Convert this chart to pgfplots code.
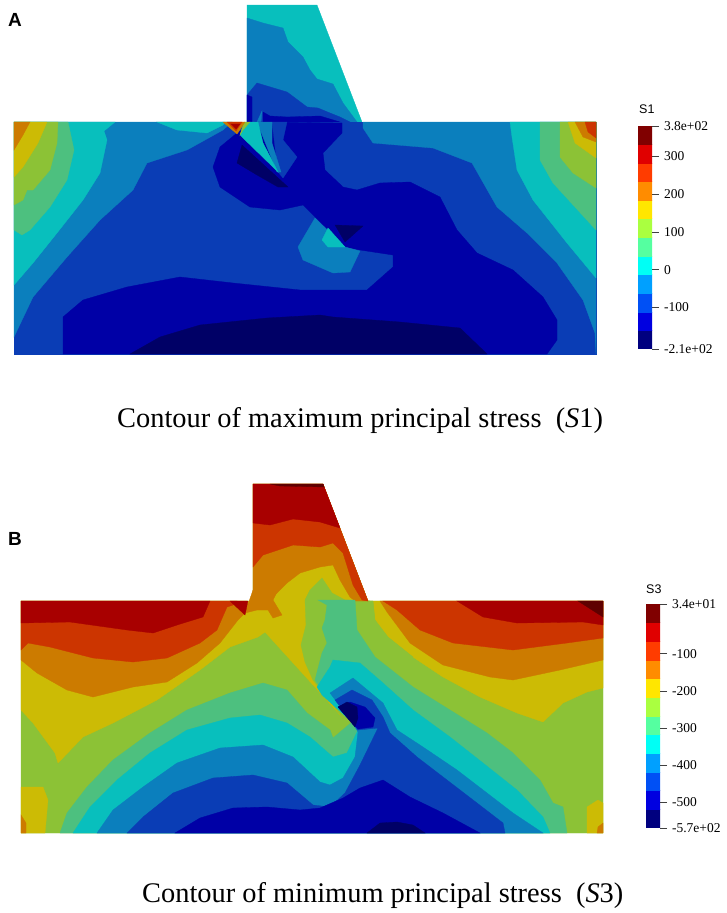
\documentclass[border=0pt]{standalone}
\usepackage{fontspec}
\setmainfont{Liberation Serif}
\newfontfamily\arialfont{Liberation Sans}
\usepackage{pgfplots}
\pgfplotsset{compat=1.18}

% contour colours, low to high
\definecolor{c1}{HTML}{000066}
\definecolor{c2}{HTML}{0000A6}
\definecolor{c3}{HTML}{0A3DB5}
\definecolor{c4}{HTML}{0B7FBD}
\definecolor{c5}{HTML}{08BFBD}
\definecolor{c6}{HTML}{4DC07F}
\definecolor{c7}{HTML}{8CC236}
\definecolor{c8}{HTML}{CCBB05}
\definecolor{c9}{HTML}{CC7B00}
\definecolor{c10}{HTML}{CC3500}
\definecolor{c11}{HTML}{A80000}
\definecolor{c12}{HTML}{5F0000}
% colour bar is brighter than the shaded model
\definecolor{b1}{HTML}{00007F}
\definecolor{b2}{HTML}{0000E0}
\definecolor{b3}{HTML}{0050F5}
\definecolor{b4}{HTML}{00A0FF}
\definecolor{b5}{HTML}{00FFF5}
\definecolor{b6}{HTML}{55FFA0}
\definecolor{b7}{HTML}{AAFF40}
\definecolor{b8}{HTML}{FFE600}
\definecolor{b9}{HTML}{FF8C00}
\definecolor{b10}{HTML}{FF3C00}
\definecolor{b11}{HTML}{E00000}
\definecolor{b12}{HTML}{800000}

\newcommand{\reg}[2]{\addplot[fill=#1,draw=#1,line width=0.3pt,forget plot] coordinates {#2} -- cycle;}

\pgfplotsset{
  cbar/.style={
    scale only axis, width=14pt,
    xmin=0, xmax=1,
    hide x axis,
    ytick pos=right,
    y axis line style={draw=none},
    tick align=outside, major tick length=7pt,
    tick style={darkgray,line width=0.5pt},
    yticklabel style={font=\fontsize{13.5}{14}\selectfont,anchor=west,xshift=1.5pt},
    axis on top,
  },
}

\begin{document}
\begin{tikzpicture}
\begin{axis}[
  at={(0,0)}, anchor=south west,
  scale only axis, width=726pt, height=913pt,
  xmin=0, xmax=726, ymin=0, ymax=913, y dir=reverse,
  hide axis, clip=false,
]
% ---- panel A, S1: stem
\reg{c5}{(247,5)(317,5)(362,122)(247,122)}
\reg{c4}{(247,18)(263,23)(283,28)(288,42)(303,57)(310,70)(317,79)(333,84)(343,103)(357,122)(247,122)}
\reg{c3}{(247,95)(257,83)(287,92)(307,107)(318,108)(330,113)(340,117)(350,122)(247,122)}
\reg{c2}{(263,122)(263,112)(270,116)(287,117)(320,116)(340,122)}
\reg{c2}{(247,122)(247,95)(252,97)(252,122)}
\reg{c4}{(257,122)(262,111)(261,122)}
% ---- panel A: block
\reg{c3}{(14,122)(596,122)(596,354)(14,354)}
\reg{c4}{(14,122)(232,122)(223,130)(187,150)(147,163)(133,190)(100,220)(67,257)(33,297)(14,337)}
\reg{c5}{(14,122)(115,122)(104,131)(107,140)(100,173)(83,200)(57,233)(33,263)(14,285)}
\reg{c6}{(14,122)(68,122)(74,150)(67,180)(50,207)(30,230)(22,235)(14,230)}
\reg{c7}{(14,122)(58,122)(57,143)(50,170)(33,190)(27,190)(23,200)(14,205)}
\reg{c8}{(14,122)(47,122)(38,143)(23,167)(14,177)}
\reg{c9}{(14,122)(30,122)(23,135)(14,150)}
\reg{c5}{(157,122)(225,122)(223,125)(207,133)(177,130)}
\reg{c4}{(363,122)(363,128)(373,143)(433,148)(472,163)(497,207)(527,233)(557,263)(583,300)(595,333)(596,354)(596,122)}
\reg{c5}{(510,122)(512,137)(517,170)(533,200)(567,243)(596,278)(596,122)}
\reg{c6}{(540,122)(540,160)(553,183)(596,230)(596,122)}
\reg{c7}{(560,122)(560,157)(573,173)(596,188)(596,122)}
\reg{c8}{(568,122)(575,143)(596,158)(596,122)}
\reg{c9}{(575,122)(583,137)(596,142)(596,122)}
\reg{c10}{(585,122)(588,132)(596,138)(596,122)}
\reg{c2}{(63,354)(63,317)(83,300)(127,287)(180,277)(233,283)(300,290)(367,290)(393,267)(393,255)(360,250)(345,247)(303,205)(280,210)(250,207)(220,187)(213,167)(220,147)(237,133)(255,122)(342,123)(342,133)(323,153)(325,170)(343,187)(357,190)(380,183)(410,182)(440,197)(457,230)(477,253)(513,270)(543,297)(557,320)(557,340)(547,354)}
\reg{c1}{(130,354)(160,337)(200,325)(267,318)(320,315)(333,317)(400,322)(460,328)(487,354)}
% crack
\reg{c1}{(237,163)(242,145)(288,187)(278,187)(257,175)}
\reg{c3}{(272,122)(287,122)(283,140)(297,157)(283,178)(278,172)}
\reg{c4}{(257,122)(272,122)(272,143)(281,172)(277,172)}
\reg{c5}{(243,130)(250,122)(258,122)(263,143)(278,172)(240,135)}
\reg{c7}{(240,135)(244,122)(250,122)(243,130)}
\reg{c9}{(223,122)(245,122)(237,134)}
\reg{c10}{(227,122)(242,122)(236,131)}
\reg{c11}{(231,124)(240,124)(236,129)}
\reg{c4}{(315,218)(298,247)(303,260)(333,273)(350,272)(360,251)(345,247)}
\reg{c5}{(328,228)(322,240)(328,247)(345,247)}
\reg{c1}{(335,225)(363,226)(345,242)}
% ---- panel B, S3: base, whole outline
\reg{c7}{(21,601)(253,601)(253,484)(323,484)(368,601)(603,601)(603,833)(21,833)}
\reg{c8}{(21,601)(253,601)(253,484)(323,484)(368,601)(603,601)(603,688)(587,692)(563,703)(543,722)(517,713)(480,697)(443,677)(413,657)(388,637)(375,620)(373,601)(360,601)(343,718)(265,632)(258,637)(230,647)(200,670)(157,700)(113,723)(83,737)(58,763)(55,753)(33,723)(21,710)}
\reg{c7}{(305,600)(310,590)(322,578)(332,593)(345,600)(373,601)(375,620)(388,637)(413,657)(400,690)(360,722)(343,718)(313,680)(305,662)(301,645)(306,625)}
\reg{c8}{(21,787)(43,787)(48,800)(45,833)(21,833)}
\reg{c9}{(21,815)(26,823)(26,833)(21,833)}
\reg{c8}{(587,833)(587,807)(598,800)(603,803)(603,833)}
\reg{c9}{(597,833)(598,827)(603,823)(603,833)}
% upper bands
\reg{c9}{(21,660)(37,673)(67,690)(93,697)(133,687)(167,682)(197,663)(220,643)(238,620)(245,613)(247,601)(21,601)}
\reg{c10}{(21,650)(28,643)(50,647)(93,658)(133,662)(167,658)(200,643)(217,630)(227,607)(233,605)(237,601)(21,601)}
\reg{c11}{(21,623)(70,622)(127,630)(153,633)(177,625)(203,617)(210,601)(21,601)}
\reg{c9}{(253,600)(270,600)(287,583)(300,573)(320,567)(333,565)(340,580)(350,597)(355,601)(368,601)(323,484)(253,484)}
\reg{c10}{(253,567)(263,555)(293,545)(320,547)(333,543)(343,553)(353,585)(362,600)(368,601)(323,484)(253,484)}
\reg{c11}{(253,523)(270,525)(293,519)(320,522)(340,528)(323,484)(253,484)}
\reg{c12}{(270,484)(323,484)(324,487)(280,486)}
\reg{c9}{(245,613)(253,590)(278,590)(273,600)(282,615)(273,618)(268,610)(257,610)}
\reg{c11}{(230,601)(248,601)(245,615)}
\reg{c9}{(380,601)(387,612)(410,643)(443,665)(490,677)(513,680)(560,670)(603,660)(603,601)}
\reg{c10}{(383,601)(397,610)(420,630)(453,643)(513,650)(567,643)(603,638)(603,601)}
\reg{c11}{(457,601)(483,617)(517,623)(583,622)(603,625)(603,601)}
\reg{c12}{(578,601)(603,617)(603,601)}
% lower nested bands
\reg{c6}{(60,833)(67,813)(87,787)(113,760)(150,733)(187,710)(230,693)(263,683)(287,690)(307,713)(330,730)(333,738)(352,722)(322,690)(315,680)(322,653)(327,643)(322,628)(325,620)(327,605)(318,600)(355,600)(357,630)(375,657)(413,687)(450,710)(487,733)(513,753)(540,780)(553,803)(563,807)(567,833)}
\reg{c5}{(73,833)(90,807)(117,780)(150,753)(187,730)(230,718)(260,715)(287,723)(310,737)(333,757)(347,753)(358,730)(352,722)(322,695)(317,687)(330,667)(333,660)(360,663)(383,683)(413,710)(450,737)(483,763)(517,790)(543,817)(550,833)}
\reg{c4}{(97,833)(113,810)(143,787)(177,763)(220,748)(263,745)(293,757)(320,782)(330,785)(343,778)(355,757)(358,732)(352,722)(330,693)(353,678)(383,703)(397,730)(423,747)(457,770)(487,793)(513,813)(543,833)}
\reg{c3}{(127,833)(143,817)(173,793)(213,778)(253,775)(287,783)(313,805)(330,807)(345,793)(360,765)(378,728)(358,730)(352,722)(335,700)(352,690)(372,700)(383,717)(390,733)(417,757)(447,780)(477,803)(503,823)(505,833)}
\reg{c2}{(175,833)(200,818)(233,808)(267,807)(300,810)(320,808)(343,798)(360,788)(383,780)(410,797)(443,813)(480,833)}
\reg{c1}{(367,833)(380,823)(397,822)(413,825)(425,833)}
\reg{c2}{(338,707)(350,702)(365,707)(375,718)(373,727)(358,729)}
\reg{c1}{(338,707)(347,702)(357,707)(358,718)(355,727)}
% ---- text
\node[anchor=base west,font=\arialfont\bfseries\fontsize{19}{20}\selectfont,inner sep=0pt] at (axis cs:8,26) {A};
\node[anchor=base west,font=\arialfont\bfseries\fontsize{19}{20}\selectfont,inner sep=0pt] at (axis cs:8,545) {B};
\node[anchor=base west,font=\fontsize{28.4}{30}\selectfont,inner sep=0pt] at (axis cs:117,427) {Contour of maximum principal stress\ \ (\textit{S}1)};
\node[anchor=base west,font=\fontsize{28.4}{30}\selectfont,inner sep=0pt] at (axis cs:142,902) {Contour of minimum principal stress\ \ (\textit{S}3)};
\node[anchor=base west,font=\arialfont\fontsize{12.5}{13}\selectfont,inner sep=0pt] at (axis cs:639,113) {S1};
\node[anchor=base west,font=\arialfont\fontsize{12.5}{13}\selectfont,inner sep=0pt] at (axis cs:646,593) {S3};
\end{axis}
% colour bar S1
\begin{axis}[cbar, at={(638pt,564pt)}, anchor=south west, height=223pt,
  ymin=-210, ymax=380,
  ytick={-210,-100,0,100,200,300,380},
  yticklabels={-2.1e+02,-100,0,100,200,300,3.8e+02}]
\reg{b1}{(0,-210)(1,-210)(1,-161)(0,-161)}
\reg{b2}{(0,-161)(1,-161)(1,-112)(0,-112)}
\reg{b3}{(0,-112)(1,-112)(1,-62)(0,-62)}
\reg{b4}{(0,-62)(1,-62)(1,-13)(0,-13)}
\reg{b5}{(0,-13)(1,-13)(1,36)(0,36)}
\reg{b6}{(0,36)(1,36)(1,85)(0,85)}
\reg{b7}{(0,85)(1,85)(1,135)(0,135)}
\reg{b8}{(0,135)(1,135)(1,184)(0,184)}
\reg{b9}{(0,184)(1,184)(1,233)(0,233)}
\reg{b10}{(0,233)(1,233)(1,282)(0,282)}
\reg{b11}{(0,282)(1,282)(1,331)(0,331)}
\reg{b12}{(0,331)(1,331)(1,380)(0,380)}
\end{axis}
% colour bar S3
\begin{axis}[cbar, at={(646pt,85pt)}, anchor=south west, height=224pt,
  ymin=-570, ymax=34,
  ytick={-570,-500,-400,-300,-200,-100,34},
  yticklabels={-5.7e+02,-500,-400,-300,-200,-100,3.4e+01}]
\reg{b1}{(0,-570)(1,-570)(1,-520)(0,-520)}
\reg{b2}{(0,-520)(1,-520)(1,-469)(0,-469)}
\reg{b3}{(0,-469)(1,-469)(1,-419)(0,-419)}
\reg{b4}{(0,-419)(1,-419)(1,-369)(0,-369)}
\reg{b5}{(0,-369)(1,-369)(1,-318)(0,-318)}
\reg{b6}{(0,-318)(1,-318)(1,-268)(0,-268)}
\reg{b7}{(0,-268)(1,-268)(1,-218)(0,-218)}
\reg{b8}{(0,-218)(1,-218)(1,-167)(0,-167)}
\reg{b9}{(0,-167)(1,-167)(1,-117)(0,-117)}
\reg{b10}{(0,-117)(1,-117)(1,-67)(0,-67)}
\reg{b11}{(0,-67)(1,-67)(1,-16)(0,-16)}
\reg{b12}{(0,-16)(1,-16)(1,34)(0,34)}
\end{axis}
\pgfresetboundingbox
\useasboundingbox (0,0) rectangle (726pt,913pt);
\end{tikzpicture}
\end{document}
